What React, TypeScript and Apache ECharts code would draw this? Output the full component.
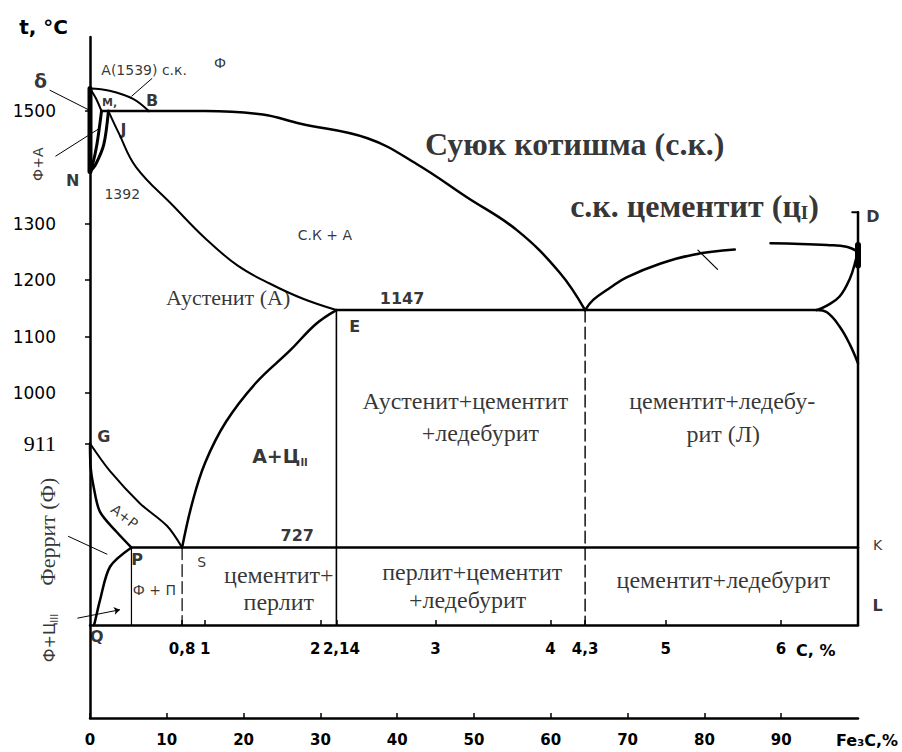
import { useEffect, useRef } from "react";
import * as echarts from "echarts";

type Pt = [number, number];

// Axis extents: carbon content (%), temperature (°C), cementite (%)
const C_MAX = 6.67;
const T_MIN = 590;
const T_MAX = 1630;
const FE3C_MAX = 100;

const tempTicks = [911, 1000, 1100, 1200, 1300, 1500];
const carbonTicks = [0.8, 1, 2, 2.14, 3, 4, 4.3, 5, 6];
const cementiteTicks = [0, 10, 20, 30, 40, 50, 60, 70, 80, 90];

// Phase boundaries, points as [C %, t °C]
const liquidusAB: Pt[] = [[0, 1539], [0.17, 1535], [0.37, 1521], [0.51, 1499]];
const solidusAH: Pt[] = [[0, 1539], [0.05, 1522], [0.1, 1499]];
const peritecticHB: Pt[] = [[0.1, 1499], [0.51, 1499]];
const lineHN: Pt[] = [[0.1, 1499], [0.06, 1440], [0.02, 1402], [0, 1392]];
const lineJN: Pt[] = [[0.16, 1499], [0.12, 1440], [0.05, 1405], [0, 1392]];
const deltaEdge: Pt[] = [[0, 1539], [0, 1392]];
const liquidusBC: Pt[] = [[0.51, 1499], [1.0, 1499], [1.5, 1493], [1.82, 1477], [2.41, 1451], [2.84, 1405], [3.27, 1347], [3.71, 1288], [4.08, 1213], [4.3, 1147]];
const solidusJE: Pt[] = [[0.16, 1499], [0.25, 1460], [0.4, 1400], [0.72, 1332], [1.0, 1274], [1.28, 1226], [1.56, 1194], [1.85, 1167], [2.14, 1147]];
const lineES: Pt[] = [[0.8, 727], [0.888, 806], [1.0, 877], [1.18, 949], [1.44, 1018], [1.74, 1076], [1.96, 1122], [2.14, 1147]];
const eutecticECF: Pt[] = [[2.14, 1147], [6.31, 1147]];
const liquidusCD1: Pt[] = [[4.3, 1147], [4.37, 1165], [4.52, 1187], [4.66, 1205], [4.95, 1229], [5.24, 1245], [5.6, 1254]];
const liquidusCD2: Pt[] = [[5.91, 1265], [6.17, 1264], [6.4, 1262], [6.57, 1259], [6.67, 1250]];
const hatchCD: Pt[] = [[5.28, 1253], [5.45, 1219]];
const lineFD: Pt[] = [[6.31, 1147], [6.4, 1155], [6.51, 1171], [6.6, 1203], [6.65, 1235], [6.67, 1255]];
const lineFK: Pt[] = [[6.31, 1147], [6.4, 1143], [6.51, 1118], [6.6, 1086], [6.67, 1053]];
const cementiteEdge: Pt[] = [[6.67, 1320], [6.67, 590]];
const cementiteCap: Pt[] = [[6.62, 1320], [6.67, 1320]];
const pointD: Pt[] = [[6.67, 1262], [6.67, 1226]];
const lineGS: Pt[] = [[0, 911], [0.174, 862], [0.434, 805], [0.67, 765], [0.8, 727]];
const lineGP: Pt[] = [[0, 911], [0.005, 870], [0.03, 836], [0.087, 790], [0.234, 754], [0.36, 727]];
const linePQ: Pt[] = [[0.36, 727], [0.174, 693], [0.087, 634], [0.043, 596], [0.035, 590]];
const eutectoidPSK: Pt[] = [[0.36, 727], [6.67, 727]];
const dropP: Pt[] = [[0.36, 727], [0.36, 590]];
const dropS: Pt[] = [[0.8, 727], [0.8, 590]];
const dropE: Pt[] = [[2.14, 1147], [2.14, 590]];
const dropC: Pt[] = [[4.3, 1147], [4.3, 590]];

// Leader lines from labels to their regions
const leaders: Pt[][] = [
  [[-0.35, 1536], [0, 1500]],
  [[-0.3, 1419], [0.087, 1469]],
  [[0.54, 1557], [0.36, 1525]],
  [[-0.19, 747], [0.15, 715]],
];
const arrowLeader: Pt[][] = [[[-0.11, 602], [0.26, 617]]];

// Region and point labels: [text, C %, t °C, style, rotation]
const labelRows: [string, number, number, string, number][] = [
  ["Суюк котишма (с.к.)", 4.21, 1440, "title", 0],
  ["с.к. цементит (ц{sub|I})", 5.25, 1331, "title", 0],
  ["С.К + А", 2.04, 1280, "hand", 0],
  ["Аустенит (А)", 1.2, 1170, "serifMid", 0],
  ["1147", 2.71, 1168, "handBold", 0],
  ["E", 2.3, 1118, "handBold", 0],
  ["А(1539) с.к.", 0.47, 1571, "hand", 0],
  ["Ф", 1.13, 1584, "hand", 0],
  ["δ", -0.43, 1552, "handBig", 0],
  ["М,", 0.17, 1514, "handSmall", 0],
  ["B", 0.54, 1517, "handBold", 0],
  ["J", 0.29, 1467, "handBold", 0],
  ["N", -0.15, 1376, "handBold", 0],
  ["1392", 0.28, 1352, "hand", 0],
  ["Ф+А", -0.45, 1405, "hand", 90],
  ["А+Ц{sub|II}", 1.65, 889, "handBig", 0],
  ["Аустенит+цементит", 3.26, 987, "serif", 0],
  ["+ледебурит", 3.39, 930, "serif", 0],
  ["цементит+ледебу-", 5.49, 987, "serif", 0],
  ["рит (Л)", 5.5, 928, "serif", 0],
  ["G", 0.12, 924, "handBold", 0],
  ["А+Р", 0.3, 782, "hand", -38],
  ["Феррит (Ф)", -0.37, 755, "serifMid", 90],
  ["P", 0.41, 706, "handBold", 0],
  ["S", 0.97, 702, "hand", 0],
  ["Ф + П", 0.56, 652, "hand", 0],
  ["727", 1.8, 748, "handBold", 0],
  ["цементит+", 1.64, 679, "serif", 0],
  ["перлит", 1.64, 631, "serif", 0],
  ["перлит+цементит", 3.32, 683, "serif", 0],
  ["+ледебурит", 3.28, 635, "serif", 0],
  ["цементит+ледебурит", 5.5, 669, "serif", 0],
  ["K", 6.84, 732, "hand", 0],
  ["L", 6.84, 624, "handBold", 0],
  ["D", 6.8, 1312, "handBold", 0],
  ["Q", 0.06, 569, "handBold", 0],
  ["Ф+Ц{sub|III}", -0.35, 567, "handMid", 90],
];

const SERIF = "'Liberation Serif', 'DejaVu Serif', serif";
const SANS = "'DejaVu Sans', 'Liberation Sans', sans-serif";

const labelStyles: Record<string, any> = {
  title: { fontFamily: SERIF, fontSize: 32, fontWeight: "bold", sub: 19, subPad: 12 },
  serif: { fontFamily: SERIF, fontSize: 24, fontWeight: "normal", sub: 14, subPad: 10 },
  serifMid: { fontFamily: SERIF, fontSize: 22, fontWeight: "normal", sub: 13, subPad: 10 },
  hand: { fontFamily: SANS, fontSize: 14, fontWeight: "normal", sub: 9, subPad: 10 },
  handMid: { fontFamily: SANS, fontSize: 16, fontWeight: "normal", sub: 10, subPad: 10 },
  handSmall: { fontFamily: SANS, fontSize: 11, fontWeight: "bold", sub: 8, subPad: 8 },
  handBold: { fontFamily: SANS, fontSize: 16, fontWeight: "bold", sub: 10, subPad: 10 },
  handBig: { fontFamily: SANS, fontSize: 19, fontWeight: "bold", sub: 10, subPad: 14 },
};

function curve(data: Pt[], width: number, opts: any = {}) {
  return {
    type: "line",
    data,
    xAxisIndex: 0,
    yAxisIndex: 0,
    symbol: "none",
    showSymbol: false,
    silent: true,
    clip: false,
    smooth: opts.smooth ?? false,
    lineStyle: { color: "#000", width, type: opts.dash ? [12, 5] : "solid", cap: "round", join: "round" },
    z: opts.z ?? 3,
  };
}

export default function App() {
  const ref = useRef<HTMLDivElement>(null);

  useEffect(() => {
    document.body.style.margin = "0";
    if (!ref.current) return;
    const chart = echarts.init(ref.current, undefined, { renderer: "svg" });

    const labelData = labelRows.map(([text, c, t, styleName, rot]) => {
      const st = labelStyles[styleName];
      return {
        value: [c, t],
        label: {
          show: true,
          position: "inside",
          formatter: text,
          rotate: rot,
          color: "#000",
          fontFamily: st.fontFamily,
          fontSize: st.fontSize,
          fontWeight: st.fontWeight,
          rich: {
            sub: {
              fontFamily: st.fontFamily,
              fontSize: st.sub,
              fontWeight: st.fontWeight,
              color: "#000",
              padding: [st.subPad, 0, 0, 0],
            },
          },
        },
      };
    });

    const handAxis = { fontFamily: SANS, color: "#000" };

    chart.setOption({
      animation: false,
      backgroundColor: "#fff",
      grid: [
        { left: 90, top: 37, width: 768, height: 588 },
        { left: 90, top: 625, width: 768, height: 93 },
      ],
      xAxis: [
        {
          type: "value",
          gridIndex: 0,
          min: 0,
          max: C_MAX,
          name: "C, %",
          nameLocation: "end",
          nameGap: -62,
          nameTextStyle: { ...handAxis, fontSize: 16, fontWeight: "bold", verticalAlign: "top", padding: [17, 0, 0, 0] },
          axisLine: { show: true, onZero: false, lineStyle: { color: "#000", width: 2.5 } },
          axisTick: { show: true, inside: true, length: 5, customValues: carbonTicks, lineStyle: { color: "#000", width: 1.5 } },
          axisLabel: {
            show: true,
            margin: 16,
            customValues: carbonTicks,
            formatter: (v: number) => {
              const s = String(v).replace(".", ",");
              if (v === 2) return "{l|" + s + "}";
              if (v === 2.14) return "{r|" + s + "}";
              return "{n|" + s + "}";
            },
            rich: {
              n: { ...handAxis, fontSize: 15, fontWeight: "bold" },
              l: { ...handAxis, fontSize: 15, fontWeight: "bold", padding: [0, 10, 0, 0] },
              r: { ...handAxis, fontSize: 15, fontWeight: "bold", padding: [0, 0, 0, 10] },
            },
          },
          splitLine: { show: false },
        },
        {
          type: "value",
          gridIndex: 1,
          min: 0,
          max: FE3C_MAX,
          name: "Fe₃C,%",
          nameLocation: "end",
          nameGap: -22,
          nameTextStyle: { ...handAxis, fontSize: 16, fontWeight: "bold", verticalAlign: "top", padding: [14, 0, 0, 0] },
          axisLine: { show: true, lineStyle: { color: "#000", width: 2.5 } },
          axisTick: { show: true, inside: true, length: 5, customValues: cementiteTicks, lineStyle: { color: "#000", width: 1.5 } },
          axisLabel: {
            show: true,
            margin: 14,
            customValues: cementiteTicks,
            ...handAxis,
            fontSize: 15,
            fontWeight: "bold",
          },
          splitLine: { show: false },
        },
      ],
      yAxis: [
        {
          type: "value",
          gridIndex: 0,
          min: T_MIN,
          max: T_MAX,
          name: "t, °C",
          nameLocation: "end",
          nameGap: 0,
          nameTextStyle: { ...handAxis, fontSize: 20, fontWeight: "bold", align: "right", padding: [0, 22, 0, 0] },
          axisLine: { show: true, lineStyle: { color: "#000", width: 2.5 } },
          axisTick: { show: true, length: 5, customValues: tempTicks, lineStyle: { color: "#000", width: 1.5 } },
          axisLabel: {
            show: true,
            margin: 34,
            customValues: tempTicks,
            formatter: (v: number) => (v === 911 ? "{s|911}" : "{h|" + v + "}"),
            rich: {
              s: { fontFamily: SERIF, fontSize: 22, color: "#000" },
              h: { ...handAxis, fontSize: 17 },
            },
          },
          splitLine: { show: false },
        },
        {
          type: "value",
          gridIndex: 1,
          min: 0,
          max: 1,
          axisLine: { show: true, lineStyle: { color: "#000", width: 2.5 } },
          axisTick: { show: false },
          axisLabel: { show: false },
          splitLine: { show: false },
        },
      ],
      series: [
        curve(liquidusAB, 2, { smooth: 0.4 }),
        curve(solidusAH, 2, { smooth: 0.4 }),
        curve(peritecticHB, 2.5),
        curve(lineHN, 3, { smooth: 0.3 }),
        curve(lineJN, 3, { smooth: 0.3 }),
        curve(deltaEdge, 5),
        curve(liquidusBC, 2.5, { smooth: 0.4 }),
        curve(solidusJE, 2, { smooth: 0.4 }),
        curve(lineES, 2.5, { smooth: 0.4 }),
        curve(eutecticECF, 2.5),
        curve(liquidusCD1, 2.5, { smooth: 0.4 }),
        curve(liquidusCD2, 2.5, { smooth: 0.4 }),
        curve(hatchCD, 1.2),
        curve(lineFD, 2.5, { smooth: 0.4 }),
        curve(lineFK, 2.5, { smooth: 0.4 }),
        curve(cementiteEdge, 2.5),
        curve(cementiteCap, 2),
        curve(pointD, 6),
        curve(lineGS, 2, { smooth: 0.3 }),
        curve(lineGP, 2.5, { smooth: 0.3 }),
        curve(linePQ, 2.5, { smooth: 0.3 }),
        curve(eutectoidPSK, 2.5),
        curve(dropP, 1.2),
        curve(dropS, 1.2, { dash: true }),
        curve(dropE, 1.6),
        curve(dropC, 1.4, { dash: true }),
        {
          type: "lines",
          coordinateSystem: "cartesian2d",
          xAxisIndex: 0,
          yAxisIndex: 0,
          silent: true,
          clip: false,
          data: leaders.map((coords) => ({ coords })),
          lineStyle: { color: "#000", width: 1, opacity: 1 },
          z: 4,
        },
        {
          type: "lines",
          coordinateSystem: "cartesian2d",
          xAxisIndex: 0,
          yAxisIndex: 0,
          silent: true,
          clip: false,
          symbol: ["none", "arrow"],
          symbolSize: 6,
          data: arrowLeader.map((coords) => ({ coords })),
          lineStyle: { color: "#000", width: 1, opacity: 1 },
          z: 4,
        },
        {
          type: "scatter",
          xAxisIndex: 0,
          yAxisIndex: 0,
          silent: true,
          clip: false,
          symbolSize: 0,
          data: labelData,
          z: 5,
        },
      ],
    });

    return () => chart.dispose();
  }, []);

  return <div ref={ref} style={{ width: 902, height: 752 }} />;
}
